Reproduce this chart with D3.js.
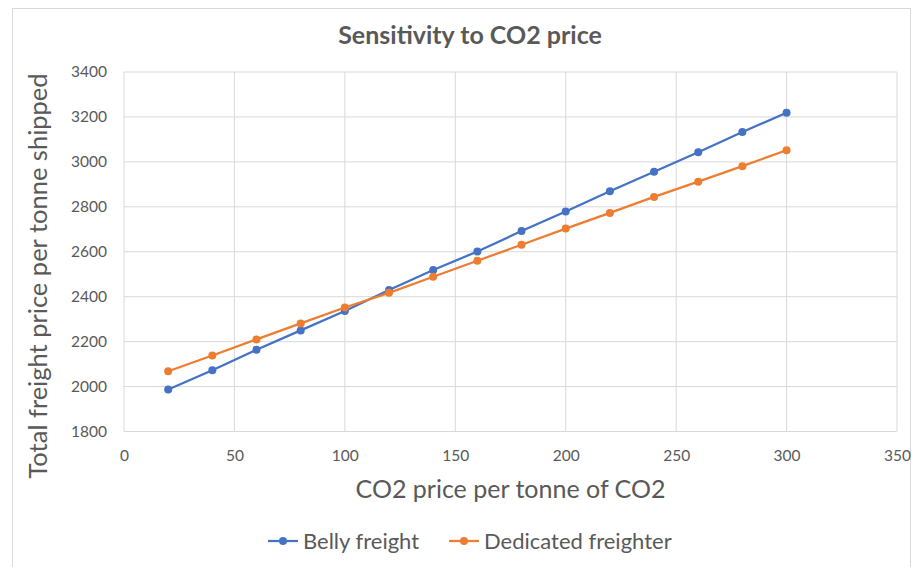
<!DOCTYPE html>
<html>
<head>
<meta charset="utf-8">
<script src="https://cdn.jsdelivr.net/npm/d3@7"></script>
<style>
  body { margin: 0; background: #fff; }
  svg text { font-family: Lato, "Open Sans", sans-serif; fill: #595959; }
</style>
</head>
<body>
<div id="chart"></div>
<script>
// data
var co2Price = [20, 40, 60, 80, 100, 120, 140, 160, 180, 200, 220, 240, 260, 280, 300];
var bellyFreight = [1987, 2073, 2164, 2250, 2336, 2430, 2519, 2601, 2692, 2779, 2869, 2956, 3043, 3133, 3219];
var dedicatedFreighter = [2068, 2138, 2210, 2281, 2352, 2417, 2489, 2560, 2631, 2703, 2773, 2844, 2912, 2981, 3052];
var seriesNames = ["Belly freight", "Dedicated freighter"];
var xTicks = [0, 50, 100, 150, 200, 250, 300, 350];
var yTicks = [1800, 2000, 2200, 2400, 2600, 2800, 3000, 3200, 3400];

function init() {
    var w = 920;
    var h = 567;
    var left = 124, right = 897, top = 72, bottom = 431.5;
    var colors = ["#4472C4", "#ED7D31"];

    var svg = d3.select("#chart")
                .append("svg")
                .attr("width", w)
                .attr("height", h);

    // chart border
    svg.append("rect")
       .attr("x", 12.5).attr("y", 8.5)
       .attr("width", 898).attr("height", 580)
       .attr("fill", "none")
       .attr("stroke", "#d9d9d9");

    var xScale = d3.scaleLinear().domain([0, 350]).range([left, right]);
    var yScale = d3.scaleLinear().domain([1800, 3400]).range([bottom, top]);

    // gridlines
    svg.append("g")
       .selectAll("line")
       .data(yTicks)
       .enter().append("line")
       .attr("x1", left).attr("x2", right)
       .attr("y1", function(d) { return yScale(d); })
       .attr("y2", function(d) { return yScale(d); })
       .attr("stroke", "#d9d9d9").attr("stroke-width", 1);
    svg.append("g")
       .selectAll("line")
       .data(xTicks)
       .enter().append("line")
       .attr("x1", function(d) { return xScale(d); })
       .attr("x2", function(d) { return xScale(d); })
       .attr("y1", top).attr("y2", bottom)
       .attr("stroke", "#d9d9d9").attr("stroke-width", 1);

    // axes (labels only)
    var xAxis = d3.axisBottom(xScale).tickValues(xTicks).tickFormat(d3.format("d")).tickSize(0).tickPadding(18);
    var gx = svg.append("g")
       .attr("transform", "translate(0," + bottom + ")")
       .call(xAxis);
    gx.select(".domain").remove();
    gx.selectAll("text").style("font-size", "15.5px").attr("fill", "#595959");

    var yAxis = d3.axisLeft(yScale).tickValues(yTicks).tickFormat(d3.format("d")).tickSize(0).tickPadding(17);
    var gy = svg.append("g")
       .attr("transform", "translate(" + left + ",0)")
       .call(yAxis);
    gy.select(".domain").remove();
    gy.selectAll("text").style("font-size", "15.5px").attr("fill", "#595959");

    // series
    var series = [bellyFreight, dedicatedFreighter];
    var line = d3.line()
                 .x(function(d, i) { return xScale(co2Price[i]); })
                 .y(function(d) { return yScale(d); });

    series.forEach(function(s, k) {
        svg.append("path")
           .datum(s)
           .attr("d", line)
           .attr("fill", "none")
           .attr("stroke", colors[k])
           .attr("stroke-width", 2.25);
        svg.selectAll(null)
           .data(s)
           .enter().append("circle")
           .attr("cx", function(d, i) { return xScale(co2Price[i]); })
           .attr("cy", function(d) { return yScale(d); })
           .attr("r", 4)
           .attr("fill", colors[k]);
    });

    // title
    svg.append("text")
       .attr("x", 470).attr("y", 44)
       .attr("text-anchor", "middle")
       .style("font-size", "25px")
       .style("font-weight", "bold")
       .text("Sensitivity to CO2 price");

    // axis titles
    svg.append("text")
       .attr("x", (left + right) / 2).attr("y", 498)
       .attr("text-anchor", "middle")
       .style("font-size", "25px")
       .text("CO2 price per tonne of CO2");

    svg.append("text")
       .attr("transform", "translate(47," + ((72 + 480) / 2) + ") rotate(-90)")
       .attr("text-anchor", "middle")
       .style("font-size", "25.5px")
       .text("Total freight price per tonne shipped");

    // legend
    var legendX = [268, 449];
    var legend = svg.selectAll("g.legend")
                    .data(seriesNames)
                    .enter().append("g")
                    .attr("transform", function(d, i) { return "translate(" + legendX[i] + ",541)"; });
    legend.append("line")
          .attr("x1", 0).attr("x2", 30)
          .attr("stroke", function(d, i) { return colors[i]; })
          .attr("stroke-width", 2.25);
    legend.append("circle")
          .attr("cx", 15).attr("r", 4)
          .attr("fill", function(d, i) { return colors[i]; });
    legend.append("text")
          .attr("x", 35).attr("dy", "0.35em")
          .style("font-size", "22px")
          .text(function(d) { return d; });
}
window.onload = init;
</script>
</body>
</html>
